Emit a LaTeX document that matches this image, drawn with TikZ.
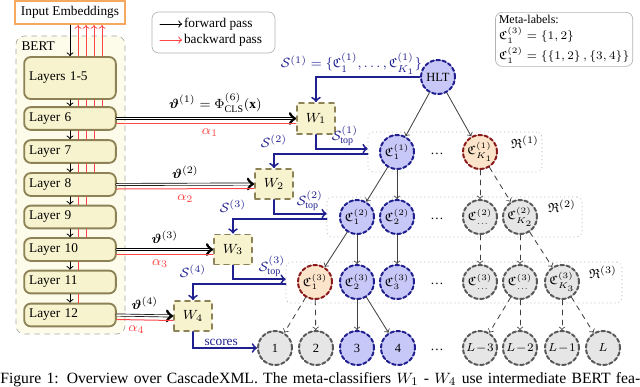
\documentclass[tikz,border=0pt]{standalone}
\usepackage{amsmath,amssymb}
\usepackage{fontspec}
\setmainfont{Liberation Serif}
\usetikzlibrary{calc}

\definecolor{layerfill}{HTML}{F8F3CF}
\definecolor{layerdraw}{HTML}{8C8256}
\definecolor{bertfill}{HTML}{FDFBEA}
\definecolor{navyline}{HTML}{1F1F8F}
\definecolor{nodeblue}{HTML}{C8C8F8}
\definecolor{nodeorange}{HTML}{FCE4CA}
\definecolor{darkred}{HTML}{8B1A1A}
\definecolor{nodegray}{HTML}{E6E6E6}
\definecolor{embedorange}{HTML}{F5A860}
\definecolor{bwdred}{HTML}{FF4545}

\newcommand{\cdd}{{\scriptscriptstyle\ldots}}

\tikzset{
  layer/.style={draw=layerdraw, fill=layerfill, line width=1.1pt, rounded corners=4pt,
    text width=49pt, align=left, inner xsep=3pt, minimum height=12.6pt},
  clf/.style={draw=layerdraw, fill=layerfill, line width=1.1pt, dashed,
    minimum width=22.8pt, minimum height=18pt},
  labnode/.style={circle, line width=1.2pt, dash pattern=on 2.2pt off 1.5pt,
    minimum size=20.4pt, inner sep=0pt, font=\fontsize{7.5}{9}\selectfont},
  activenode/.style={labnode, draw=navyline, fill=nodeblue},
  selnode/.style={labnode, draw=darkred, fill=nodeorange},
  idlenode/.style={labnode, draw=black!65, fill=nodegray},
  grp/.style={draw=gray!60, dotted, rounded corners=3pt},
  infobox/.style={draw=gray!60, rounded corners=4pt},
  fwd/.style={->, black, line width=0.6pt},
  fwdd/.style={->, double, double distance=0.9pt, line width=0.4pt},
  bwd/.style={bwdred, line width=0.6pt},
  sarr/.style={->, navyline, line width=1.1pt},
  tedge/.style={->, black!75, line width=0.5pt},
  dedge/.style={tedge, dashed},
}

\begin{document}
\begin{tikzpicture}[x=0.6pt, y=-0.6pt, line cap=round, font=\fontsize{8}{9.6}\selectfont]
  \useasboundingbox (0,0) rectangle (640,386);

  \node[infobox, minimum width=73.8pt, minimum height=24.6pt] (legend) at (213.5,32.5) {};
  \coordinate (fwdstart) at (160,24);
  \coordinate (bwdstart) at (160,40);
  \node[anchor=west, inner sep=1pt] (fwdtxt) at (182,24) {forward pass};
  \node[anchor=west, inner sep=1pt] (bwdtxt) at (182,40) {backward pass};
  \draw[fwd] (fwdstart) -- (fwdtxt.west);
  \draw[bwd, ->] (bwdstart) -- (bwdtxt.west);

  \node[infobox, anchor=north east, align=left, inner sep=2pt, font=\fontsize{7.2}{8.6}\selectfont] (meta) at (633,12)
    {Meta-labels:\\[1pt] $\mathfrak{C}^{(3)}_1 = \{1,2\}$\\[1pt] $\mathfrak{C}^{(2)}_1 = \{\{1,2\}\,,\{3,4\}\}$};

  \node[draw=embedorange, line width=1.2pt, fill=white, minimum width=62pt, minimum height=12.6pt] (inp) at (70,12.5) {Input Embeddings};
  \node[draw=gray!70, dashed, fill=bertfill, rounded corners=5pt, minimum width=65.4pt, minimum height=178.8pt] (bert) at (70.5,185) {};
  \node[anchor=north west] (berttxt) at (bert.north west) {BERT};

  \node[layer, minimum height=25.2pt] (l15) at (70,78) {Layers 1-5};
  \node[layer] (l6) at (70,118.5) {Layer 6};
  \node[layer] (l7) at (70,151.5) {Layer 7};
  \node[layer] (l8) at (70,184.5) {Layer 8};
  \node[layer] (l9) at (70,217) {Layer 9};
  \node[layer] (l10) at (70,249.5) {Layer 10};
  \node[layer] (l11) at (70,282) {Layer 11};
  \node[layer] (l12) at (70,315) {Layer 12};

  \foreach \a/\b in {inp/l15, l15/l6, l6/l7, l7/l8, l8/l9, l9/l10, l10/l11, l11/l12}
    \draw[fwd] (\a.south) -- (\b.north);
  \foreach \i in {1,...,4}
    \draw[bwd, ->] ([xshift=\i*4.8pt]l15.north) -- ([xshift=\i*4.8pt]inp.south);
  \foreach \a/\b/\n in {l15/l6/4, l6/l7/3, l7/l8/3, l8/l9/2, l9/l10/2, l10/l11/1, l11/l12/1}
    \foreach \i in {1,...,\n}
      \draw[bwd] ([xshift=\i*4.8pt]\a.south) -- ([xshift=\i*4.8pt]\b.north);

  \node[clf, minimum height=18.6pt] (w1) at (316,118.5) {$W_1$};
  \node[clf] (w2) at (274,184) {$W_2$};
  \node[clf] (w3) at (233,249.5) {$W_3$};
  \node[clf] (w4) at (193,316) {$W_4$};

  \draw[fwdd] (l6.east) -- node[above, pos=0.55] {$\boldsymbol{\vartheta}^{(1)} = \Phi^{(6)}_{\text{CLS}}(\mathbf{x})$} (w1.west);
  \draw[bwd] ([yshift=-2.7pt]l6.east) -- node[below, text=bwdred, pos=0.52] {$\alpha_1$} ([yshift=-2.7pt]w1.west);
  \draw[fwdd] (l8.east) -- node[above] {$\boldsymbol{\vartheta}^{(2)}$} (w2.west);
  \draw[bwd] ([yshift=-2.7pt]l8.east) -- node[below, text=bwdred] {$\alpha_2$} ([yshift=-2.7pt]w2.west);
  \draw[fwdd] (l10.east) -- node[above] {$\boldsymbol{\vartheta}^{(3)}$} (w3.west);
  \draw[bwd] ([yshift=-2.7pt]l10.east) -- node[below, text=bwdred, pos=0.45] {$\alpha_3$} ([yshift=-2.7pt]w3.west);
  \draw[fwdd] (l12.east) -- node[above] {$\boldsymbol{\vartheta}^{(4)}$} (w4.west);
  \draw[bwd] ([yshift=-2.7pt]l12.east) -- node[below, text=bwdred, pos=0.35] {$\alpha_4$} ([yshift=-2.7pt]w4.west);

  \node[grp, minimum width=104.4pt, minimum height=24pt] (r1) at (455,152) {};
  \node[grp, minimum width=153pt, minimum height=24pt] (r2) at (454.5,217) {};
  \node[grp, minimum width=201.6pt, minimum height=24.6pt] (r3) at (454,282.5) {};
  \node (r1txt) at (525,142) {$\mathfrak{R}^{(1)}$};
  \node (r2txt) at (562,206) {$\mathfrak{R}^{(2)}$};
  \node (r3txt) at (603,272) {$\mathfrak{R}^{(3)}$};

  \node[activenode] (hlt) at (438,77) {HLT};

  \node[activenode] (c11) at (397,152) {$\mathfrak{C}^{(1)}_1$};
  \node (d1) at (437,154) {\dots};
  \node[selnode] (c1k) at (480,152) {$\mathfrak{C}^{(1)}_{K_1}$};

  \node[activenode] (c21) at (357,217) {$\mathfrak{C}^{(2)}_1$};
  \node[activenode] (c22) at (397,217) {$\mathfrak{C}^{(2)}_2$};
  \node (d2) at (437,219) {\dots};
  \node[idlenode] (c2d) at (480,217) {$\mathfrak{C}^{(2)}_{\cdd}$};
  \node[idlenode] (c2k) at (520,217) {$\mathfrak{C}^{(2)}_{K_2}$};

  \node[selnode] (c31) at (315,282) {$\mathfrak{C}^{(3)}_1$};
  \node[activenode] (c32) at (357,282) {$\mathfrak{C}^{(3)}_2$};
  \node[activenode] (c33) at (397,282) {$\mathfrak{C}^{(3)}_3$};
  \node (d3) at (437,284) {\dots};
  \node[idlenode] (c3d) at (480,282) {$\mathfrak{C}^{(3)}_{\cdd}$};
  \node[idlenode] (c3e) at (520,282) {$\mathfrak{C}^{(3)}_{\cdd}$};
  \node[idlenode] (c3k) at (562,282) {$\mathfrak{C}^{(3)}_{K_3}$};

  \node[idlenode] (lf1) at (275,348) {1};
  \node[idlenode] (lf2) at (316,348) {2};
  \node[activenode] (lf3) at (357,348) {3};
  \node[activenode] (lf4) at (398,348) {4};
  \node (d4) at (437,350) {\dots};
  \node[idlenode] (lfa) at (480,348) {$L\!-\!3$};
  \node[idlenode] (lfb) at (520,348) {$L\!-\!2$};
  \node[idlenode] (lfc) at (562,348) {$L\!-\!1$};
  \node[idlenode] (lfd) at (603,348) {$L$};

  \foreach \a/\b in {hlt/c11, hlt/c1k, c11/c21, c11/c22, c21/c31, c21/c32, c22/c33, c32/lf3, c32/lf4}
    \draw[tedge] (\a) -- (\b);
  \foreach \a/\b in {c1k/c2d, c1k/c2k, c2d/c3d, c2k/c3e, c2k/c3k, c31/lf1, c31/lf2, c3e/lfa, c3e/lfb, c3k/lfc, c3k/lfd}
    \draw[dedge] (\a) -- (\b);

  \draw[sarr] (hlt.west) -| node[pos=0.33, above, inner sep=1pt] {$\mathcal{S}^{(1)} = \{\mathfrak{C}^{(1)}_1, \dots, \mathfrak{C}^{(1)}_{K_1}\}$} (w1.north);
  \draw[sarr] (w1.south) |- node[pos=0.78, above, inner sep=1pt] {$\mathcal{S}^{(1)}_{\text{top}}$} ([yshift=2pt]r1.west);
  \draw[sarr] ([yshift=-1pt]r1.west) -| node[pos=0.5, above] {$\mathcal{S}^{(2)}$} (w2.north);
  \draw[sarr] (w2.south) |- node[pos=0.84, above, inner sep=1pt] {$\mathcal{S}^{(2)}_{\text{top}}$} ([yshift=2pt]r2.west);
  \draw[sarr] ([yshift=-1pt]r2.west) -| node[pos=0.5, above] {$\mathcal{S}^{(3)}$} (w3.north);
  \draw[sarr] (w3.south) |- node[pos=0.87, above, inner sep=1pt] {$\mathcal{S}^{(3)}_{\text{top}}$} ([yshift=2pt]r3.west);
  \draw[sarr] ([yshift=-1pt]r3.west) -| node[pos=0.5, above] {$\mathcal{S}^{(4)}$} (w4.north);
  \draw[sarr] (w4.south) |- node[pos=0.72, above, inner sep=1pt] {scores} (lf1.west);

  \node[anchor=base west, inner sep=0pt, font=\fontsize{9.4}{11}\selectfont] (caption) at (0,383)
    {\makebox[384pt][s]{Figure 1: Overview over CascadeXML. The meta-classifiers $W_1$ - $W_4$ use intermediate BERT fea-}};
\end{tikzpicture}
\end{document}
